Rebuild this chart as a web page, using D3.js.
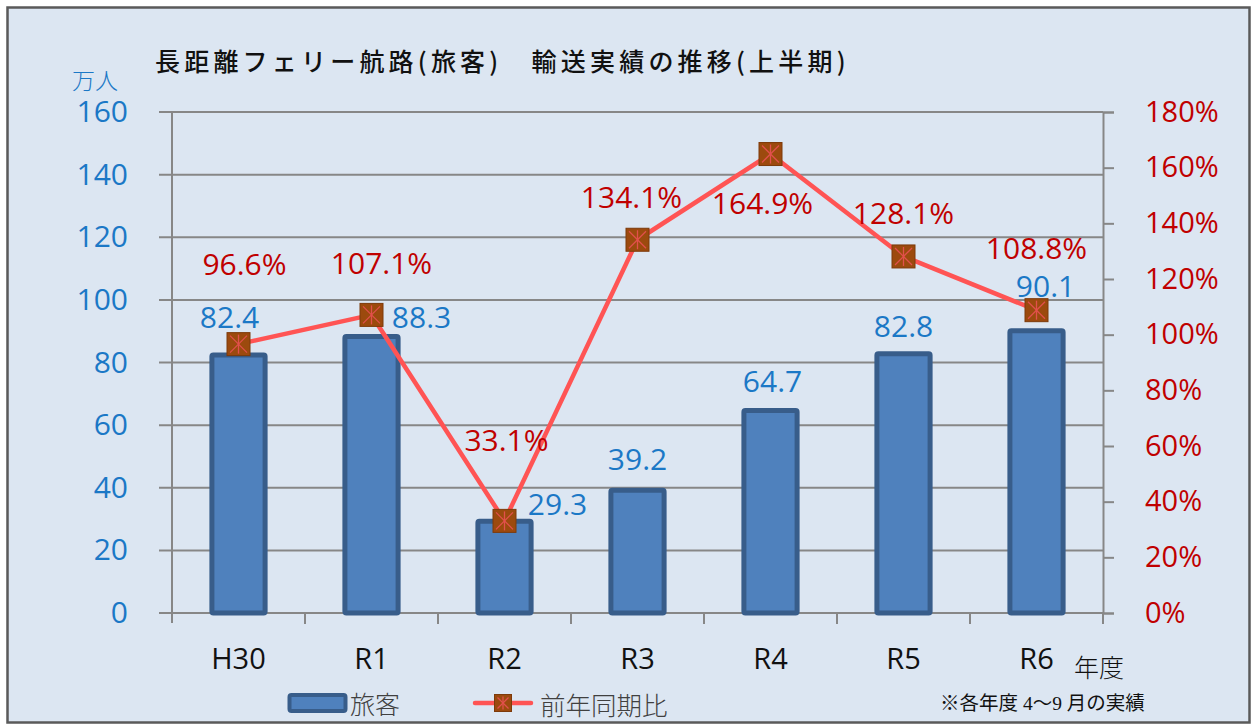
<!DOCTYPE html>
<html>
<head>
<meta charset="utf-8">
<script src="https://cdn.jsdelivr.net/npm/d3@7"></script>
<style>
  html, body { margin: 0; padding: 0; background: #ffffff; }
  svg { display: block; }
  .num { font-family: 'Open Sans', 'Noto Sans', sans-serif; }
  .jp { font-family: 'Noto Sans CJK JP', sans-serif; }
  .mincho { font-family: 'Liberation Serif', 'Noto Sans CJK JP', serif; }
</style>
</head>
<body>
<div id="graphWrapper"></div>
<script>
//data
const CATEGORIES = ['H30', 'R1', 'R2', 'R3', 'R4', 'R5', 'R6'];
const PASSENGERS = [82.4, 88.3, 29.3, 39.2, 64.7, 82.8, 90.1];   //万人
const YOY_RATIO = [96.6, 107.1, 33.1, 134.1, 164.9, 128.1, 108.8]; //%
const LEFT_TICKS = [0, 20, 40, 60, 80, 100, 120, 140, 160];
const RIGHT_TICKS = [0, 20, 40, 60, 80, 100, 120, 140, 160, 180];

//label nudges (px) so the labels sit where the original chart put them
const BAR_LABEL_OFFSET = [[-9, -38], [50, -20], [53, -18], [0, -32], [2, -30], [0, -28], [9, -45]];
const PCT_LABEL_OFFSET = [[6, -81], [10, -52], [2, -81], [-6, -43], [-8, 48], [0, -44], [0, -63]];

const CONSTANTS = {
    WIDTH: 1252,
    HEIGHT: 725,
    PLOT_LEFT: 172,
    PLOT_RIGHT: 1103,
    PLOT_TOP: 112,
    PLOT_BOTTOM: 613,
    NUM_SIZE: '30px',
    BG: '#dce6f2',
    GRID: '#878787',
    BLUE_TEXT: '#1b78c6',
    RED_TEXT: '#c00000',
    BAR_FILL: '#4f81bd',
    BAR_STROKE: '#385d8a',
    LINE: '#ff5454',
    MARKER: '#9c4a0e'
};

const svg = d3.select('#graphWrapper')
    .append('svg')
    .attr('width', CONSTANTS.WIDTH)
    .attr('height', CONSTANTS.HEIGHT);

//scales
const x = d3.scaleBand()
    .domain(CATEGORIES)
    .range([CONSTANTS.PLOT_LEFT, CONSTANTS.PLOT_RIGHT])
    .padding(0);
const yLeft = d3.scaleLinear()
    .domain([0, 160])
    .range([CONSTANTS.PLOT_BOTTOM, CONSTANTS.PLOT_TOP]);
const yRight = d3.scaleLinear()
    .domain([0, 180])
    .range([CONSTANTS.PLOT_BOTTOM, CONSTANTS.PLOT_TOP]);
const cx = d => x(d) + x.bandwidth() / 2;

buildFrame();
buildGrid();
buildAxis();
buildBars();
buildLine();
buildLabels();
buildLegend();

function buildFrame() {
    svg.append('rect')
        .attr('x', 7.5).attr('y', 7.5)
        .attr('width', 1242).attr('height', 715)
        .style('fill', CONSTANTS.BG)
        .style('stroke', '#5a5a5a')
        .style('stroke-width', 2.5);

    svg.append('text')
        .attr('class', 'jp')
        .attr('x', 155).attr('y', 60)
        .attr('dominant-baseline', 'central')
        .style('font-size', '25px')
        .style('font-weight', 500)
        .style('letter-spacing', '4.2px')
        .style('fill', '#111')
        .text('長距離フェリー航路(旅客)　輸送実績の推移(上半期)');

    svg.append('text')
        .attr('class', 'jp')
        .attr('x', 95).attr('y', 79)
        .attr('text-anchor', 'middle')
        .attr('dominant-baseline', 'central')
        .style('font-size', '23px')
        .style('font-weight', 300)
        .style('fill', CONSTANTS.BLUE_TEXT)
        .text('万人');
}

//horizontal grid lines, they poke out left of the axis like ticks
function buildGrid() {
    svg.append('g')
        .selectAll('line')
        .data(LEFT_TICKS)
        .enter()
        .append('line')
        .attr('x1', CONSTANTS.PLOT_LEFT - 13)
        .attr('x2', CONSTANTS.PLOT_RIGHT)
        .attr('y1', d => yLeft(d))
        .attr('y2', d => yLeft(d))
        .style('stroke', CONSTANTS.GRID)
        .style('stroke-width', 2);
}

function buildAxis() {
    //left axis
    let leftAxis = d3.axisLeft(yLeft).tickValues(LEFT_TICKS).tickSize(0).tickPadding(44);
    let gl = svg.append('g')
        .attr('transform', 'translate(' + CONSTANTS.PLOT_LEFT + ',0)')
        .call(leftAxis);
    gl.select('.domain').remove();
    gl.selectAll('text')
        .attr('class', 'num')
        .style('font-size', CONSTANTS.NUM_SIZE)
        .style('fill', CONSTANTS.BLUE_TEXT);

    svg.append('line')
        .attr('x1', CONSTANTS.PLOT_LEFT).attr('x2', CONSTANTS.PLOT_LEFT)
        .attr('y1', CONSTANTS.PLOT_TOP).attr('y2', CONSTANTS.PLOT_BOTTOM + 10)
        .style('stroke', CONSTANTS.GRID)
        .style('stroke-width', 2);

    //right axis
    let rightAxis = d3.axisRight(yRight).tickValues(RIGHT_TICKS).tickSize(11).tickPadding(31)
        .tickFormat(d => d + '%');
    let gr = svg.append('g')
        .attr('transform', 'translate(' + CONSTANTS.PLOT_RIGHT + ',0)')
        .call(rightAxis);
    gr.select('.domain').style('stroke', CONSTANTS.GRID).style('stroke-width', 2);
    gr.selectAll('.tick line').style('stroke', CONSTANTS.GRID).style('stroke-width', 2);
    gr.selectAll('text')
        .attr('class', 'num')
        .style('font-size', '29px')
        .style('fill', CONSTANTS.RED_TEXT);

    //category axis: ticks between the categories
    let xAxis = d3.axisBottom(x).tickSize(0).tickPadding(35);
    let gx = svg.append('g')
        .attr('transform', 'translate(0,' + CONSTANTS.PLOT_BOTTOM + ')')
        .call(xAxis);
    gx.select('.domain').remove();
    gx.selectAll('text')
        .attr('class', 'num')
        .style('font-size', '29px')
        .style('fill', '#111');

    svg.append('g')
        .selectAll('line')
        .data(CATEGORIES.slice(1).concat(['end']))
        .enter()
        .append('line')
        .attr('x1', (d, i) => x(CATEGORIES[0]) + x.bandwidth() * (i + 1))
        .attr('x2', (d, i) => x(CATEGORIES[0]) + x.bandwidth() * (i + 1))
        .attr('y1', CONSTANTS.PLOT_BOTTOM)
        .attr('y2', CONSTANTS.PLOT_BOTTOM + 11)
        .style('stroke', CONSTANTS.GRID)
        .style('stroke-width', 2);

    svg.append('text')
        .attr('class', 'jp')
        .attr('x', 1099).attr('y', 666)
        .attr('text-anchor', 'middle')
        .attr('dominant-baseline', 'central')
        .style('font-size', '25px')
        .style('font-weight', 300)
        .style('fill', '#111')
        .text('年度');
}

function buildBars() {
    let barWidth = x.bandwidth() * 0.4;
    svg.append('g')
        .selectAll('rect')
        .data(PASSENGERS)
        .enter()
        .append('rect')
        .attr('x', (d, i) => cx(CATEGORIES[i]) - barWidth / 2)
        .attr('y', d => yLeft(d))
        .attr('width', barWidth)
        .attr('height', d => yLeft(0) - yLeft(d))
        .attr('rx', 1.5)
        .style('fill', CONSTANTS.BAR_FILL)
        .style('stroke', CONSTANTS.BAR_STROKE)
        .style('stroke-width', 5);
}

function drawMarker(g, size) {
    let h = size / 2;
    g.append('rect')
        .attr('x', -h).attr('y', -h)
        .attr('width', size).attr('height', size)
        .style('fill', CONSTANTS.MARKER)
        .style('stroke', '#7d3a0a')
        .style('stroke-width', 1);
    let star = [[-h + 3, -h + 3, h - 3, h - 3], [h - 3, -h + 3, -h + 3, h - 3], [0, -h + 2, 0, h - 2]];
    star.forEach(s => {
        g.append('line')
            .attr('x1', s[0]).attr('y1', s[1])
            .attr('x2', s[2]).attr('y2', s[3])
            .style('stroke', '#e2504c')
            .style('stroke-width', 1.3);
    });
}

function buildLine() {
    let line = d3.line()
        .x((d, i) => cx(CATEGORIES[i]))
        .y(d => yRight(d));

    svg.append('path')
        .datum(YOY_RATIO)
        .attr('d', line)
        .style('fill', 'none')
        .style('stroke', CONSTANTS.LINE)
        .style('stroke-width', 4.5)
        .style('stroke-linejoin', 'round');

    svg.append('g')
        .selectAll('g')
        .data(YOY_RATIO)
        .enter()
        .append('g')
        .attr('transform', (d, i) => 'translate(' + cx(CATEGORIES[i]) + ',' + yRight(d) + ')')
        .each(function () { drawMarker(d3.select(this), 23); });
}

function buildLabels() {
    svg.append('g')
        .selectAll('text')
        .data(PASSENGERS)
        .enter()
        .append('text')
        .attr('class', 'num')
        .attr('x', (d, i) => cx(CATEGORIES[i]) + BAR_LABEL_OFFSET[i][0])
        .attr('y', (d, i) => yLeft(d) + BAR_LABEL_OFFSET[i][1])
        .attr('text-anchor', 'middle')
        .attr('dominant-baseline', 'central')
        .style('font-size', CONSTANTS.NUM_SIZE)
        .style('fill', CONSTANTS.BLUE_TEXT)
        .text(d => d.toFixed(1));

    svg.append('g')
        .selectAll('text')
        .data(YOY_RATIO)
        .enter()
        .append('text')
        .attr('class', 'num')
        .attr('x', (d, i) => cx(CATEGORIES[i]) + PCT_LABEL_OFFSET[i][0])
        .attr('y', (d, i) => yRight(d) + PCT_LABEL_OFFSET[i][1])
        .attr('text-anchor', 'middle')
        .attr('dominant-baseline', 'central')
        .style('font-size', CONSTANTS.NUM_SIZE)
        .style('fill', CONSTANTS.RED_TEXT)
        .text(d => d.toFixed(1) + '%');
}

function buildLegend() {
    let y = 703;
    let g = svg.append('g');

    g.append('rect')
        .attr('x', 289.5).attr('y', y - 8)
        .attr('width', 56).attr('height', 16)
        .attr('rx', 2)
        .style('fill', CONSTANTS.BAR_FILL)
        .style('stroke', CONSTANTS.BAR_STROKE)
        .style('stroke-width', 4);
    g.append('text')
        .attr('class', 'jp')
        .attr('x', 350).attr('y', y)
        .attr('dominant-baseline', 'central')
        .style('font-size', '25px')
        .style('font-weight', 300)
        .style('fill', '#404040')
        .text('旅客');

    g.append('line')
        .attr('x1', 475).attr('x2', 531)
        .attr('y1', y).attr('y2', y)
        .style('stroke', CONSTANTS.LINE)
        .style('stroke-width', 4.5)
        .style('stroke-linecap', 'round');
    drawMarker(g.append('g').attr('transform', 'translate(503,' + y + ')'), 17);
    g.append('text')
        .attr('class', 'jp')
        .attr('x', 540).attr('y', y)
        .attr('dominant-baseline', 'central')
        .style('font-size', '25.5px')
        .style('font-weight', 300)
        .style('fill', '#404040')
        .text('前年同期比');

    svg.append('text')
        .attr('class', 'mincho')
        .attr('x', 940).attr('y', 703)
        .attr('dominant-baseline', 'central')
        .style('font-size', '19.5px')
        .style('fill', '#111')
        .text('※各年度 4～9 月の実績');
}
</script>
</body>
</html>
